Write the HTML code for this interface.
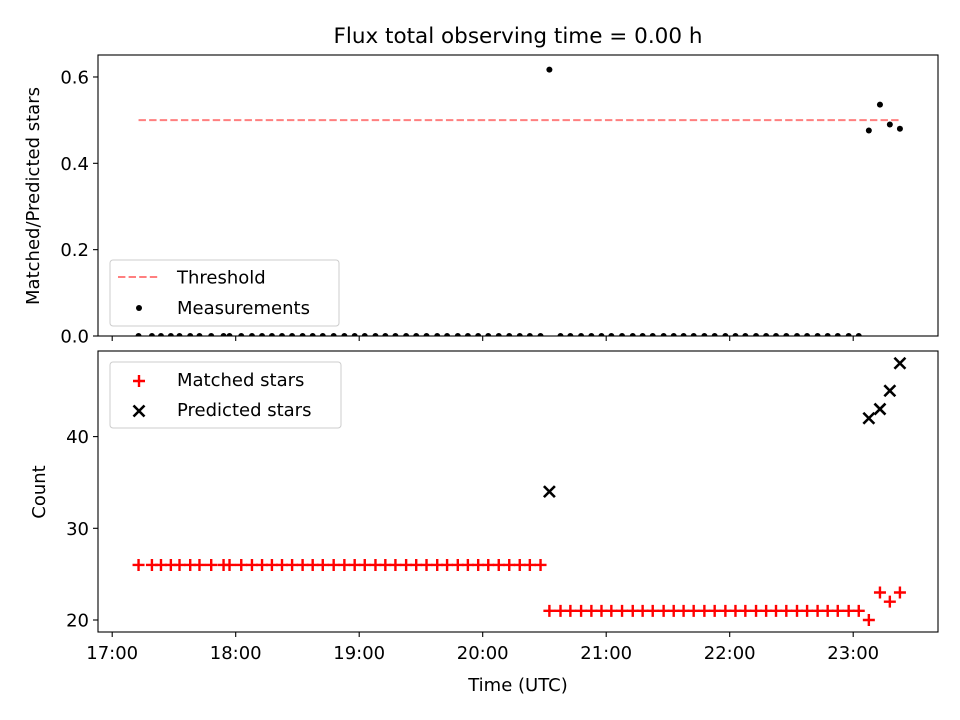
<!DOCTYPE html>
<html><head><meta charset="utf-8"><style>
html,body{margin:0;padding:0;background:#fff;overflow:hidden;width:960px;height:720px}
svg{display:block}
svg text{font-family:"DejaVu Sans","Liberation Sans",sans-serif;fill:#000}
</style></head><body>
<svg id="chart" width="960" height="720" xmlns="http://www.w3.org/2000/svg">
<defs>
<clipPath id="clipTop"><rect x="98" y="55" width="840" height="281"/></clipPath>
<clipPath id="clipBot"><rect x="98" y="351" width="840" height="281"/></clipPath>
</defs>
<rect width="960" height="720" fill="#fff"/>
<text x="518" y="43" text-anchor="middle" style="font-size:21.5px">Flux total observing time = 0.00 h</text>
<g id="top"></g><g id="bot"></g>
</svg>
<script>
// minutes after 17:00 UTC
const times=[12.8,19.3,23.7,28.5,32.7,37.9,42.4,48.1,54.1,57.0,62.7,67.9,72.8,77.6,82.5,87.4,92.5,97.4,102.3,107.6,112.8,117.8,122.7,127.9,132.7,137.6,142.8,147.7,152.7,157.9,162.7,167.9,172.8,177.8,182.7,187.8,192.9,198.0,202.9,208.1,
212.4,217.8,222.6,227.8,232.8,237.7,242.5,247.7,252.9,257.7,262.6,267.9,272.8,277.6,282.5,287.7,292.7,297.9,302.8,307.6,312.8,317.7,322.5,327.5,332.7,337.6,342.7,347.6,352.5,357.8,362.7,
367.6,373.0,377.8,382.7];
const matched=[26,26,26,26,26,26,26,26,26,26,26,26,26,26,26,26,26,26,26,26,26,26,26,26,26,26,26,26,26,26,26,26,26,26,26,26,26,26,26,26,
21,21,21,21,21,21,21,21,21,21,21,21,21,21,21,21,21,21,21,21,21,21,21,21,21,21,21,21,21,21,21,
20,23,22,23];
const predicted=[0,0,0,0,0,0,0,0,0,0,0,0,0,0,0,0,0,0,0,0,0,0,0,0,0,0,0,0,0,0,0,0,0,0,0,0,0,0,0,0,
34,0,0,0,0,0,0,0,0,0,0,0,0,0,0,0,0,0,0,0,0,0,0,0,0,0,0,0,0,0,0,
42,43,45,48];
const ratio=[0,0,0,0,0,0,0,0,0,0,0,0,0,0,0,0,0,0,0,0,0,0,0,0,0,0,0,0,0,0,0,0,0,0,0,0,0,0,0,0,
0.617,0,0,0,0,0,0,0,0,0,0,0,0,0,0,0,0,0,0,0,0,0,0,0,0,0,0,0,0,0,0,
0.476,0.536,0.49,0.48];
const threshold=0.5;
const xTicks=["17:00","18:00","19:00","20:00","21:00","22:00","23:00"];
const topTicks=["0.0","0.2","0.4","0.6"];
const botTicks=["20","30","40"];

const NS="http://www.w3.org/2000/svg";
const L=98,R=938;
const FS='font-size:18px';
const x=m=>112.2+m*123.5/60;
const yTop=v=>336-v*431.7;
const yBot=v=>620-(v-20)*9.17;
function el(tag,attrs,parent,text){const e=document.createElementNS(NS,tag);for(const k in attrs)e.setAttribute(k,attrs[k]);if(text!==undefined)e.textContent=text;parent.appendChild(e);return e;}
const gt=document.getElementById('top'),gb=document.getElementById('bot');

function axes(g,y0,y1,ticks,yf,name,showX){
  xTicks.forEach((t,i)=>{const xx=x(i*60);
    const tk=el('line',{x1:xx,x2:xx,y1:y1,y2:y1+5,stroke:'#000','stroke-width':1.1},g);
    
    if(showX){const tl=el('text',{x:xx,y:y1+27,'text-anchor':'middle',style:FS},g,t);
      }
  });
  ticks.forEach(t=>{const yy=yf(parseFloat(t));
    const tk=el('line',{x1:L-5,x2:L,y1:yy,y2:yy,stroke:'#000','stroke-width':1.1},g);
    
    const tl=el('text',{x:L-9,y:yy+6.5,'text-anchor':'end',style:FS},g,t);
    
  });
  const fr=el('rect',{x:L,y:y0,width:R-L,height:y1-y0,fill:'none',stroke:'#000','stroke-width':1.1},g);
  
}

// Top panel
const tc=el('g',{'clip-path':'url(#clipTop)'},gt);
const th=el('line',{x1:x(times[0]),x2:x(times[times.length-1]),y1:yTop(threshold),y2:yTop(threshold),stroke:'#ff7f7f','stroke-width':2,'stroke-dasharray':'7.4,3.2'},tc);

times.forEach((t,i)=>{const c=el('circle',{cx:x(t),cy:yTop(ratio[i]),r:3,fill:'#000'},tc);
  });
axes(gt,55,336,topTicks,yTop,'top-panel',false);
const yl1=el('text',{transform:'translate(39,196) rotate(-90)','text-anchor':'middle',style:FS},gt,'Matched/Predicted stars');

const lg1=el('g',{},gt);
el('rect',{x:110,y:260,width:229,height:66,rx:3,fill:'#fff','fill-opacity':0.8,stroke:'#ccc'},lg1);
el('line',{x1:118,x2:160,y1:277,y2:277,stroke:'#ff7f7f','stroke-width':2,'stroke-dasharray':'7.4,3.2'},lg1);
el('text',{x:177,y:283.5,style:FS},lg1,'Threshold');
el('circle',{cx:139,cy:308,r:3,fill:'#000'},lg1);
el('text',{x:177,y:314,style:FS},lg1,'Measurements');

// Bottom panel
const bc=el('g',{'clip-path':'url(#clipBot)'},gb);
function plus(cx,cy,g){return el('path',{d:`M${cx-6},${cy}H${cx+6}M${cx},${cy-6}V${cy+6}`,stroke:'#f00','stroke-width':2.4,fill:'none'},g);}
function cross(cx,cy,g){return el('path',{d:`M${cx-5.5},${cy-5.5}L${cx+5.5},${cy+5.5}M${cx-5.5},${cy+5.5}L${cx+5.5},${cy-5.5}`,stroke:'#000','stroke-width':2.6,fill:'none'},g);}
times.forEach((t,i)=>{const p=plus(x(t),yBot(matched[i]),bc);
  });
times.forEach((t,i)=>{const c=cross(x(t),yBot(predicted[i]),bc);
  });
axes(gb,351,632,botTicks,yBot,'bottom-panel',true);
const yl2=el('text',{transform:'translate(45,492) rotate(-90)','text-anchor':'middle',style:FS},gb,'Count');

const xl=el('text',{x:518,y:691,'text-anchor':'middle',style:FS},gb,'Time (UTC)');

const lg2=el('g',{},gb);
el('rect',{x:110,y:362,width:231,height:66,rx:3,fill:'#fff','fill-opacity':0.8,stroke:'#ccc'},lg2);
plus(139,381,lg2);
el('text',{x:177,y:386,style:FS},lg2,'Matched stars');
cross(139,411,lg2);
el('text',{x:177,y:416,style:FS},lg2,'Predicted stars');
</script>
</body></html>
